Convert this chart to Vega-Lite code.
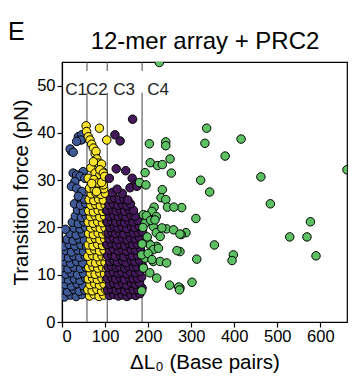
{
  "$schema": "https://vega.github.io/schema/vega-lite/v6.json",
  "width": 285,
  "height": 260,
  "autosize": "none",
  "padding": {"left": 62, "top": 62, "right": 5, "bottom": 69},
  "background": "white",
  "title": {"text": "E", "anchor": "start", "frame": "group", "fontSize": 25, "font": "Liberation Sans", "fontWeight": "normal", "color": "black", "dx": -54, "dy": 20},
  "config": {
    "view": {"stroke": "black", "strokeWidth": 1.2},
    "axis": {"labelFont": "Liberation Sans", "titleFont": "Liberation Sans", "labelColor": "black", "titleColor": "black", "domainColor": "black", "tickColor": "black", "titleFontWeight": "normal", "grid": false, "labelFontSize": 16.5, "titleFontSize": 20.5, "tickSize": 5, "domainWidth": 1.2, "tickWidth": 1.2}
  },
  "datasets": {
    "rules": [
      {"x": 58, "y": 0, "y2": 48.5}, {"x": 58, "y": 53.1, "y2": 55},
      {"x": 105, "y": 0, "y2": 48.5}, {"x": 105, "y": 53.1, "y2": 55},
      {"x": 186, "y": 0, "y2": 48.5}, {"x": 186, "y": 53.1, "y2": 55}
    ],
    "labels": [
      {"t": "C1", "x": 33, "y": 49.0}, {"t": "C2", "x": 81, "y": 49.0},
      {"t": "C3", "x": 144, "y": 49.0}, {"t": "C4", "x": 223, "y": 49.0}
    ],
    "pts": [
      {"x":6,"y":5.3,"c":"C1"},{"x":20,"y":5.7,"c":"C1"},{"x":33,"y":5.4,"c":"C1"},{"x":46,"y":5.8,"c":"C1"},
      {"x":2,"y":6.8,"c":"C1"},{"x":13,"y":6.4,"c":"C1"},{"x":27,"y":6.9,"c":"C1"},{"x":40,"y":6.5,"c":"C1"},{"x":53,"y":6.7,"c":"C1"},
      {"x":8,"y":7.9,"c":"C1"},{"x":22,"y":7.6,"c":"C1"},{"x":35,"y":8.1,"c":"C1"},{"x":49,"y":7.7,"c":"C1"},
      {"x":3,"y":9.2,"c":"C1"},{"x":15,"y":8.9,"c":"C1"},{"x":29,"y":9.1,"c":"C1"},{"x":42,"y":8.8,"c":"C1"},{"x":55,"y":9.3,"c":"C1"},
      {"x":9,"y":10.1,"c":"C1"},{"x":21,"y":10.4,"c":"C1"},{"x":36,"y":10.0,"c":"C1"},{"x":50,"y":10.3,"c":"C1"},
      {"x":1,"y":11.5,"c":"C1"},{"x":14,"y":11.2,"c":"C1"},{"x":28,"y":11.6,"c":"C1"},{"x":43,"y":11.3,"c":"C1"},{"x":56,"y":11.5,"c":"C1"},
      {"x":7,"y":12.7,"c":"C1"},{"x":20,"y":12.4,"c":"C1"},{"x":34,"y":12.8,"c":"C1"},{"x":48,"y":12.5,"c":"C1"},
      {"x":2,"y":13.9,"c":"C1"},{"x":15,"y":13.6,"c":"C1"},{"x":27,"y":14.0,"c":"C1"},{"x":41,"y":13.7,"c":"C1"},{"x":54,"y":13.9,"c":"C1"},
      {"x":9,"y":15.1,"c":"C1"},{"x":22,"y":14.8,"c":"C1"},{"x":37,"y":15.2,"c":"C1"},{"x":50,"y":14.9,"c":"C1"},
      {"x":4,"y":16.0,"c":"C1"},{"x":17,"y":16.4,"c":"C1"},{"x":30,"y":16.1,"c":"C1"},{"x":44,"y":16.3,"c":"C1"},{"x":57,"y":16.0,"c":"C1"},
      {"x":12,"y":17.5,"c":"C1"},{"x":26,"y":17.2,"c":"C1"},{"x":39,"y":17.6,"c":"C1"},{"x":52,"y":17.3,"c":"C1"},
      {"x":19,"y":18.7,"c":"C1"},{"x":33,"y":18.4,"c":"C1"},{"x":47,"y":18.8,"c":"C1"},
      {"x":8,"y":19.6,"c":"C1"},{"x":28,"y":19.9,"c":"C1"},{"x":42,"y":19.7,"c":"C1"},{"x":55,"y":20.0,"c":"C1"},
      {"x":24,"y":21.1,"c":"C1"},{"x":38,"y":20.8,"c":"C1"},{"x":51,"y":21.2,"c":"C1"},
      {"x":31,"y":22.4,"c":"C1"},{"x":45,"y":22.1,"c":"C1"},{"x":56,"y":22.5,"c":"C1"},
      {"x":36,"y":23.7,"c":"C1"},{"x":50,"y":23.4,"c":"C1"},
      {"x":29,"y":25.0,"c":"C1"},{"x":43,"y":24.7,"c":"C1"},{"x":55,"y":25.1,"c":"C1"},
      {"x":40,"y":26.3,"c":"C1"},{"x":52,"y":26.0,"c":"C1"},
      {"x":38,"y":39.2,"c":"C1"},{"x":48,"y":38.7,"c":"C1"},{"x":46,"y":39.6,"c":"C1"},{"x":44,"y":38.5,"c":"C1"},{"x":34,"y":38.2,"c":"C1"},
      {"x":22,"y":36.1,"c":"C1"},{"x":19,"y":36.6,"c":"C1"},{"x":26,"y":35.9,"c":"C1"},
      {"x":26,"y":31.5,"c":"C1"},{"x":34,"y":31.1,"c":"C1"},{"x":49,"y":31.8,"c":"C1"},{"x":42,"y":30.8,"c":"C1"},{"x":30,"y":29.7,"c":"C1"},{"x":53,"y":30.4,"c":"C1"},
      {"x":22,"y":28.7,"c":"C1"},{"x":34,"y":28.3,"c":"C1"},{"x":46,"y":27.6,"c":"C1"},{"x":38,"y":26.6,"c":"C1"},

      {"x":64,"y":5.5,"c":"C2"},{"x":75,"y":5.8,"c":"C2"},{"x":86,"y":5.4,"c":"C2"},{"x":97,"y":5.7,"c":"C2"},
      {"x":60,"y":6.8,"c":"C2"},{"x":70,"y":6.6,"c":"C2"},{"x":81,"y":6.9,"c":"C2"},{"x":92,"y":6.5,"c":"C2"},{"x":102,"y":6.8,"c":"C2"},
      {"x":65,"y":7.9,"c":"C2"},{"x":76,"y":8.1,"c":"C2"},{"x":87,"y":7.8,"c":"C2"},{"x":98,"y":8.0,"c":"C2"},
      {"x":61,"y":9.1,"c":"C2"},{"x":71,"y":9.3,"c":"C2"},{"x":82,"y":9.0,"c":"C2"},{"x":93,"y":9.2,"c":"C2"},{"x":103,"y":9.0,"c":"C2"},
      {"x":66,"y":10.3,"c":"C2"},{"x":77,"y":10.1,"c":"C2"},{"x":88,"y":10.4,"c":"C2"},{"x":99,"y":10.2,"c":"C2"},
      {"x":62,"y":11.5,"c":"C2"},{"x":72,"y":11.7,"c":"C2"},{"x":83,"y":11.4,"c":"C2"},{"x":94,"y":11.6,"c":"C2"},{"x":104,"y":11.3,"c":"C2"},
      {"x":67,"y":12.7,"c":"C2"},{"x":78,"y":12.5,"c":"C2"},{"x":89,"y":12.8,"c":"C2"},{"x":100,"y":12.6,"c":"C2"},
      {"x":60,"y":13.9,"c":"C2"},{"x":71,"y":14.1,"c":"C2"},{"x":82,"y":13.8,"c":"C2"},{"x":93,"y":14.0,"c":"C2"},{"x":103,"y":13.8,"c":"C2"},
      {"x":65,"y":15.1,"c":"C2"},{"x":76,"y":15.3,"c":"C2"},{"x":87,"y":15.0,"c":"C2"},{"x":98,"y":15.2,"c":"C2"},
      {"x":61,"y":16.3,"c":"C2"},{"x":72,"y":16.1,"c":"C2"},{"x":83,"y":16.4,"c":"C2"},{"x":94,"y":16.2,"c":"C2"},{"x":104,"y":16.4,"c":"C2"},
      {"x":66,"y":17.5,"c":"C2"},{"x":77,"y":17.7,"c":"C2"},{"x":88,"y":17.4,"c":"C2"},{"x":99,"y":17.6,"c":"C2"},
      {"x":62,"y":18.7,"c":"C2"},{"x":73,"y":18.5,"c":"C2"},{"x":84,"y":18.8,"c":"C2"},{"x":95,"y":18.6,"c":"C2"},{"x":103,"y":18.9,"c":"C2"},
      {"x":67,"y":19.9,"c":"C2"},{"x":78,"y":20.1,"c":"C2"},{"x":89,"y":19.8,"c":"C2"},{"x":100,"y":20.0,"c":"C2"},
      {"x":61,"y":21.1,"c":"C2"},{"x":72,"y":20.9,"c":"C2"},{"x":83,"y":21.2,"c":"C2"},{"x":94,"y":21.0,"c":"C2"},{"x":104,"y":21.2,"c":"C2"},
      {"x":66,"y":22.3,"c":"C2"},{"x":77,"y":22.5,"c":"C2"},{"x":88,"y":22.2,"c":"C2"},{"x":99,"y":22.4,"c":"C2"},
      {"x":62,"y":23.5,"c":"C2"},{"x":73,"y":23.3,"c":"C2"},{"x":84,"y":23.6,"c":"C2"},{"x":95,"y":23.4,"c":"C2"},{"x":103,"y":23.6,"c":"C2"},
      {"x":67,"y":24.7,"c":"C2"},{"x":78,"y":24.9,"c":"C2"},{"x":89,"y":24.6,"c":"C2"},{"x":100,"y":24.8,"c":"C2"},
      {"x":63,"y":25.9,"c":"C2"},{"x":74,"y":25.7,"c":"C2"},{"x":85,"y":26.0,"c":"C2"},{"x":96,"y":25.8,"c":"C2"},
      {"x":68,"y":27.1,"c":"C2"},{"x":79,"y":27.3,"c":"C2"},{"x":90,"y":27.0,"c":"C2"},{"x":101,"y":27.2,"c":"C2"},
      {"x":64,"y":28.3,"c":"C2"},{"x":75,"y":28.1,"c":"C2"},{"x":86,"y":28.4,"c":"C2"},{"x":97,"y":28.2,"c":"C2"},
      {"x":67,"y":32.6,"c":"C2"},{"x":77,"y":31.5,"c":"C2"},{"x":88,"y":31.1,"c":"C2"},{"x":95,"y":31.8,"c":"C2"},{"x":61,"y":30.4,"c":"C2"},
      {"x":74,"y":30.1,"c":"C2"},{"x":84,"y":29.4,"c":"C2"},{"x":96,"y":29.0,"c":"C2"},{"x":69,"y":29.3,"c":"C2"},{"x":80,"y":27.6,"c":"C2"},{"x":92,"y":29.5,"c":"C2"},
      {"x":56,"y":41.5,"c":"C2"},{"x":87,"y":41.0,"c":"C2"},{"x":57,"y":40.3,"c":"C2"},{"x":61,"y":39.2,"c":"C2"},{"x":65,"y":38.5,"c":"C2"},
      {"x":69,"y":37.6,"c":"C2"},{"x":73,"y":36.8,"c":"C2"},{"x":77,"y":35.6,"c":"C2"},{"x":79,"y":36.1,"c":"C2"},{"x":81,"y":34.5,"c":"C2"},
      {"x":84,"y":33.6,"c":"C2"},{"x":92,"y":33.4,"c":"C2"},{"x":88,"y":32.2,"c":"C2"},{"x":96,"y":31.5,"c":"C2"},{"x":104,"y":38.5,"c":"C2"},{"x":99,"y":30.8,"c":"C2"},{"x":73,"y":33.9,"c":"C2"},

      {"x":110,"y":5.6,"c":"C3"},{"x":121,"y":5.8,"c":"C3"},{"x":131,"y":5.5,"c":"C3"},{"x":140,"y":5.7,"c":"C3"},{"x":151,"y":5.4,"c":"C3"},{"x":160,"y":5.8,"c":"C3"},{"x":171,"y":5.6,"c":"C3"},{"x":181,"y":6.0,"c":"C3"},
      {"x":106,"y":6.8,"c":"C3"},{"x":115,"y":7.0,"c":"C3"},{"x":126,"y":6.7,"c":"C3"},{"x":135,"y":6.9,"c":"C3"},{"x":146,"y":6.6,"c":"C3"},{"x":155,"y":7.0,"c":"C3"},{"x":166,"y":6.8,"c":"C3"},{"x":176,"y":6.9,"c":"C3"},{"x":186,"y":7.2,"c":"C3"},
      {"x":111,"y":8.0,"c":"C3"},{"x":120,"y":8.2,"c":"C3"},{"x":130,"y":7.9,"c":"C3"},{"x":141,"y":8.1,"c":"C3"},{"x":150,"y":7.8,"c":"C3"},{"x":161,"y":8.2,"c":"C3"},{"x":170,"y":8.0,"c":"C3"},{"x":180,"y":8.3,"c":"C3"},
      {"x":105,"y":9.2,"c":"C3"},{"x":116,"y":9.4,"c":"C3"},{"x":125,"y":9.1,"c":"C3"},{"x":136,"y":9.3,"c":"C3"},{"x":145,"y":9.0,"c":"C3"},{"x":156,"y":9.4,"c":"C3"},{"x":165,"y":9.2,"c":"C3"},{"x":175,"y":9.3,"c":"C3"},{"x":185,"y":9.5,"c":"C3"},
      {"x":109,"y":10.4,"c":"C3"},{"x":119,"y":10.6,"c":"C3"},{"x":131,"y":10.3,"c":"C3"},{"x":139,"y":10.5,"c":"C3"},{"x":151,"y":10.2,"c":"C3"},{"x":159,"y":10.6,"c":"C3"},{"x":171,"y":10.4,"c":"C3"},{"x":181,"y":10.7,"c":"C3"},
      {"x":107,"y":11.6,"c":"C3"},{"x":115,"y":11.8,"c":"C3"},{"x":126,"y":11.5,"c":"C3"},{"x":134,"y":11.7,"c":"C3"},{"x":146,"y":11.4,"c":"C3"},{"x":154,"y":11.8,"c":"C3"},{"x":166,"y":11.6,"c":"C3"},{"x":174,"y":11.7,"c":"C3"},{"x":187,"y":11.9,"c":"C3"},
      {"x":111,"y":12.8,"c":"C3"},{"x":121,"y":13.0,"c":"C3"},{"x":129,"y":12.7,"c":"C3"},{"x":141,"y":12.9,"c":"C3"},{"x":149,"y":12.6,"c":"C3"},{"x":161,"y":13.0,"c":"C3"},{"x":169,"y":12.8,"c":"C3"},{"x":180,"y":13.1,"c":"C3"},
      {"x":106,"y":14.0,"c":"C3"},{"x":116,"y":14.2,"c":"C3"},{"x":124,"y":13.9,"c":"C3"},{"x":136,"y":14.1,"c":"C3"},{"x":144,"y":13.8,"c":"C3"},{"x":156,"y":14.2,"c":"C3"},{"x":164,"y":14.0,"c":"C3"},{"x":176,"y":14.1,"c":"C3"},{"x":186,"y":14.3,"c":"C3"},
      {"x":110,"y":15.2,"c":"C3"},{"x":120,"y":15.4,"c":"C3"},{"x":131,"y":15.1,"c":"C3"},{"x":140,"y":15.3,"c":"C3"},{"x":150,"y":15.0,"c":"C3"},{"x":160,"y":15.4,"c":"C3"},{"x":171,"y":15.2,"c":"C3"},{"x":182,"y":15.5,"c":"C3"},
      {"x":105,"y":16.4,"c":"C3"},{"x":115,"y":16.6,"c":"C3"},{"x":126,"y":16.3,"c":"C3"},{"x":135,"y":16.5,"c":"C3"},{"x":146,"y":16.2,"c":"C3"},{"x":155,"y":16.6,"c":"C3"},{"x":164,"y":16.4,"c":"C3"},{"x":175,"y":16.5,"c":"C3"},{"x":186,"y":16.7,"c":"C3"},
      {"x":109,"y":17.6,"c":"C3"},{"x":119,"y":17.8,"c":"C3"},{"x":129,"y":17.5,"c":"C3"},{"x":141,"y":17.7,"c":"C3"},{"x":151,"y":17.4,"c":"C3"},{"x":159,"y":17.8,"c":"C3"},{"x":170,"y":17.6,"c":"C3"},{"x":180,"y":17.9,"c":"C3"},
      {"x":107,"y":18.8,"c":"C3"},{"x":116,"y":19.0,"c":"C3"},{"x":125,"y":18.7,"c":"C3"},{"x":134,"y":18.9,"c":"C3"},{"x":144,"y":18.6,"c":"C3"},{"x":156,"y":19.0,"c":"C3"},{"x":166,"y":18.8,"c":"C3"},{"x":177,"y":18.9,"c":"C3"},{"x":187,"y":19.1,"c":"C3"},
      {"x":111,"y":20.0,"c":"C3"},{"x":121,"y":20.2,"c":"C3"},{"x":130,"y":19.9,"c":"C3"},{"x":140,"y":20.1,"c":"C3"},{"x":150,"y":19.8,"c":"C3"},{"x":161,"y":20.2,"c":"C3"},{"x":169,"y":20.0,"c":"C3"},{"x":179,"y":20.3,"c":"C3"},
      {"x":106,"y":21.2,"c":"C3"},{"x":115,"y":21.4,"c":"C3"},{"x":125,"y":21.1,"c":"C3"},{"x":136,"y":21.3,"c":"C3"},{"x":146,"y":21.0,"c":"C3"},{"x":155,"y":21.4,"c":"C3"},{"x":165,"y":21.2,"c":"C3"},{"x":176,"y":21.5,"c":"C3"},
      {"x":110,"y":22.4,"c":"C3"},{"x":120,"y":22.6,"c":"C3"},{"x":131,"y":22.3,"c":"C3"},{"x":141,"y":22.5,"c":"C3"},{"x":149,"y":22.2,"c":"C3"},{"x":160,"y":22.6,"c":"C3"},{"x":170,"y":22.4,"c":"C3"},
      {"x":105,"y":23.6,"c":"C3"},{"x":116,"y":23.8,"c":"C3"},{"x":126,"y":23.5,"c":"C3"},{"x":135,"y":23.7,"c":"C3"},{"x":145,"y":23.4,"c":"C3"},{"x":156,"y":23.8,"c":"C3"},{"x":166,"y":23.6,"c":"C3"},
      {"x":109,"y":24.8,"c":"C3"},{"x":119,"y":25.0,"c":"C3"},{"x":130,"y":24.7,"c":"C3"},{"x":140,"y":24.9,"c":"C3"},{"x":151,"y":24.6,"c":"C3"},{"x":159,"y":25.0,"c":"C3"},
      {"x":112,"y":26.0,"c":"C3"},{"x":122,"y":26.2,"c":"C3"},{"x":133,"y":25.9,"c":"C3"},{"x":144,"y":26.1,"c":"C3"},{"x":153,"y":25.8,"c":"C3"},
      {"x":164,"y":42.9,"c":"C3"},{"x":123,"y":39.6,"c":"C3"},{"x":135,"y":38.3,"c":"C3"},{"x":126,"y":32.4,"c":"C3"},{"x":148,"y":32.0,"c":"C3"},
      {"x":163,"y":30.4,"c":"C3"},{"x":110,"y":30.4,"c":"C3"},{"x":171,"y":29.1,"c":"C3"},{"x":181,"y":29.4,"c":"C3"},{"x":158,"y":28.4,"c":"C3"},
      {"x":174,"y":28.7,"c":"C3"},{"x":117,"y":27.4,"c":"C3"},{"x":140,"y":27.2,"c":"C3"},{"x":128,"y":28.1,"c":"C3"},

      {"x":226,"y":54.9,"c":"C4"},{"x":336,"y":41.0,"c":"C4"},{"x":332,"y":37.8,"c":"C4"},{"x":416,"y":38.7,"c":"C4"},{"x":379,"y":35.1,"c":"C4"},
      {"x":322,"y":30.0,"c":"C4"},{"x":462,"y":30.7,"c":"C4"},{"x":343,"y":27.5,"c":"C4"},{"x":278,"y":24.2,"c":"C4"},{"x":484,"y":25.0,"c":"C4"},
      {"x":662,"y":32.2,"c":"C4"},{"x":311,"y":21.9,"c":"C4"},{"x":577,"y":21.2,"c":"C4"},{"x":288,"y":18.9,"c":"C4"},{"x":277,"y":18.5,"c":"C4"},
      {"x":529,"y":18.0,"c":"C4"},{"x":569,"y":18.0,"c":"C4"},{"x":354,"y":16.3,"c":"C4"},{"x":274,"y":14.9,"c":"C4"},{"x":313,"y":13.3,"c":"C4"},
      {"x":398,"y":14.2,"c":"C4"},{"x":395,"y":13.0,"c":"C4"},{"x":590,"y":14.0,"c":"C4"},{"x":302,"y":8.4,"c":"C4"},{"x":274,"y":7.2,"c":"C4"},
      {"x":203,"y":37.7,"c":"C4"},{"x":241,"y":38.1,"c":"C4"},{"x":241,"y":37.3,"c":"C4"},{"x":205,"y":33.7,"c":"C4"},{"x":222,"y":33.1,"c":"C4"},
      {"x":233,"y":33.3,"c":"C4"},{"x":251,"y":34.5,"c":"C4"},{"x":193,"y":31.6,"c":"C4"},{"x":254,"y":31.5,"c":"C4"},{"x":180,"y":29.5,"c":"C4"},
      {"x":195,"y":29.0,"c":"C4"},{"x":233,"y":28.0,"c":"C4"},{"x":230,"y":26.3,"c":"C4"},{"x":241,"y":25.9,"c":"C4"},{"x":214,"y":24.3,"c":"C4"},
      {"x":245,"y":24.3,"c":"C4"},{"x":260,"y":24.3,"c":"C4"},{"x":189,"y":22.7,"c":"C4"},{"x":209,"y":23.4,"c":"C4"},{"x":219,"y":22.3,"c":"C4"},
      {"x":193,"y":20.9,"c":"C4"},{"x":212,"y":20.2,"c":"C4"},{"x":243,"y":19.7,"c":"C4"},{"x":259,"y":19.5,"c":"C4"},{"x":274,"y":18.6,"c":"C4"},
      {"x":219,"y":18.9,"c":"C4"},{"x":228,"y":18.1,"c":"C4"},{"x":201,"y":16.7,"c":"C4"},{"x":220,"y":16.0,"c":"C4"},{"x":205,"y":16.3,"c":"C4"},
      {"x":212,"y":15.3,"c":"C4"},{"x":224,"y":15.6,"c":"C4"},{"x":267,"y":15.1,"c":"C4"},{"x":193,"y":13.5,"c":"C4"},{"x":185,"y":14.2,"c":"C4"},
      {"x":212,"y":12.8,"c":"C4"},{"x":228,"y":12.8,"c":"C4"},{"x":243,"y":12.5,"c":"C4"},{"x":189,"y":11.4,"c":"C4"},{"x":220,"y":9.3,"c":"C4"},
      {"x":250,"y":7.8,"c":"C4"},{"x":271,"y":7.4,"c":"C4"},{"x":273,"y":6.8,"c":"C4"},{"x":185,"y":6.6,"c":"C4"},
      {"x":188,"y":20.0,"c":"C4"},{"x":198,"y":18.0,"c":"C4"},{"x":186,"y":16.5,"c":"C4"},{"x":200,"y":14.5,"c":"C4"},{"x":204,"y":10.4,"c":"C4"},
      {"x":196,"y":22.5,"c":"C4"},{"x":206,"y":21.5,"c":"C4"},{"x":216,"y":21.6,"c":"C4"},{"x":232,"y":19.9,"c":"C4"},{"x":209,"y":13.2,"c":"C4"}
    ]
  },
  "layer": [
    {
      "layer": [
        {
          "data": {"name": "rules"},
          "mark": {"type": "rule", "color": "#444444", "strokeWidth": 1},
          "encoding": {
            "x": {"field": "x", "type": "quantitative", "scale": {"domain": [0, 662], "nice": false}, "axis": {"title": "ΔL₀ (Base pairs)", "values": [0, 100, 200, 300, 400, 500, 600], "labelPadding": 1, "titlePadding": 8}},
            "y": {"field": "y", "type": "quantitative", "scale": {"domain": [0, 55], "nice": false}, "axis": {"title": "Transition force (pN)", "values": [0, 10, 20, 30, 40, 50], "labelPadding": 2, "titlePadding": 5}},
            "y2": {"field": "y2"}
          }
        },
        {
          "data": {"name": "pts"},
          "mark": {"type": "circle", "size": 72, "stroke": "black", "strokeWidth": 1, "opacity": 1, "clip": true},
          "encoding": {
            "x": {"field": "x", "type": "quantitative", "axis": {"title": "ΔL₀ (Base pairs)", "values": [0, 100, 200, 300, 400, 500, 600], "labelPadding": 1, "titlePadding": 8}},
            "y": {"field": "y", "type": "quantitative", "axis": {"title": "Transition force (pN)", "values": [0, 10, 20, 30, 40, 50], "labelPadding": 2, "titlePadding": 5}},
            "color": {"field": "c", "type": "nominal", "scale": {"domain": ["C1", "C2", "C3", "C4"], "range": ["#3f5a96", "#f9e32a", "#451a5b", "#5dc163"]}, "legend": null}
          }
        }
      ]
    },
    {
      "data": {"name": "labels"},
      "mark": {"type": "text", "fontSize": 17, "font": "Liberation Sans", "color": "#222222", "baseline": "middle", "align": "center"},
      "encoding": {
        "x": {"field": "x", "type": "quantitative", "axis": {"orient": "top", "title": "12-mer array + PRC2", "titleFontSize": 24, "labels": false, "ticks": false, "domain": false, "titlePadding": 9}},
        "y": {"field": "y", "type": "quantitative", "axis": {"title": "Transition force (pN)", "values": [0, 10, 20, 30, 40, 50], "labelPadding": 2, "titlePadding": 5}},
        "text": {"field": "t"}
      }
    }
  ],
  "resolve": {"axis": {"x": "independent"}}
}
